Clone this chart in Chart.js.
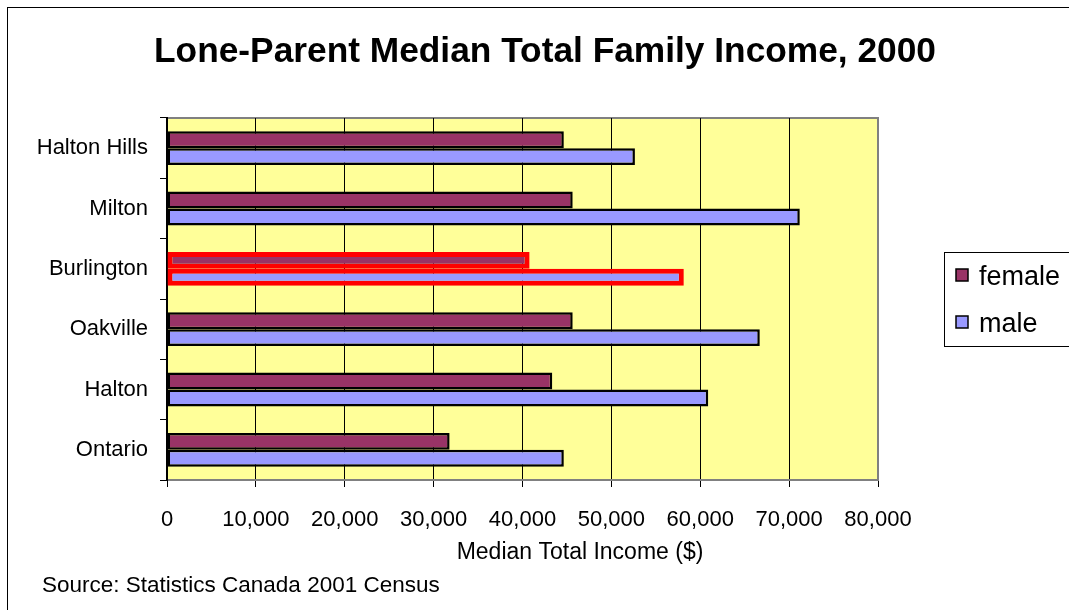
<!DOCTYPE html>
<html lang="en">
<head>
  <meta charset="UTF-8">
  <title>Lone-Parent Median Total Family Income, 2000</title>
  <script src="https://cdn.jsdelivr.net/npm/chart.js"></script>
  <style>
    body { margin: 0; background: #fff; }
    #wrap { width: 1069px; height: 610px; position: relative; }
  </style>
</head>
<body>
  <div id="wrap"><canvas id="incomeChart"></canvas></div>

  <script>
    const places = ['Halton Hills', 'Milton', 'Burlington', 'Oakville', 'Halton', 'Ontario'];
    const female = [44650, 45650, 40800, 45650, 43350, 31800];
    const male = [52650, 71200, 58150, 66700, 60900, 44650];
    const highlighted = 'Burlington';

    const font = '"Liberation Sans", Arial, sans-serif';

    // border colour / width per bar: the highlighted place gets a red outline
    const edgeColor = places.map(p => p === highlighted ? '#ff0000' : '#000000');
    const edgeWidth = places.map(p => p === highlighted ? 5 : 2.5);

    // plot background, title, axis title, legend box, source note and outer frame
    const decorations = {
      id: 'decorations',
      beforeDraw(chart) {
        const { ctx, chartArea: a } = chart;
        ctx.save();
        ctx.fillStyle = '#ffff99';
        ctx.fillRect(a.left, a.top, a.right - a.left, a.bottom - a.top);
        ctx.strokeStyle = '#808080';
        ctx.lineWidth = 2;
        ctx.strokeRect(a.left, a.top, a.right - a.left, a.bottom - a.top);
        ctx.restore();
      },
      afterDraw(chart) {
        const ctx = chart.ctx;
        ctx.save();
        ctx.strokeStyle = '#000';
        ctx.lineWidth = 1;
        ctx.strokeRect(7.5, 7.5, 1100, 700);

        ctx.fillStyle = '#000';
        ctx.font = 'bold 35.3px ' + font;
        ctx.textAlign = 'center';
        ctx.textBaseline = 'middle';
        ctx.fillText('Lone-Parent Median Total Family Income, 2000', 545, 52);

        ctx.font = '23px ' + font;
        ctx.fillText('Median Total Income ($)', 580, 553);

        ctx.font = '22.5px ' + font;
        ctx.textAlign = 'left';
        ctx.fillText('Source: Statistics Canada 2001 Census', 42, 586);

        // legend
        ctx.strokeRect(944.5, 252.5, 200, 94);
        ctx.font = '27px ' + font;
        ctx.textBaseline = 'alphabetic';
        const rows = [285, 332];
        chart.data.datasets.forEach((ds, i) => {
          const y = rows[i];
          ctx.fillStyle = ds.backgroundColor;
          ctx.fillRect(956, y - 16, 12, 12);
          ctx.lineWidth = 1.5;
          ctx.strokeRect(956, y - 16, 12, 12);
          ctx.fillStyle = '#000';
          ctx.fillText(ds.label, 979, y);
        });
        ctx.restore();
      }
    };

    const ctx = document.getElementById('incomeChart').getContext('2d');

    const incomeChart = new Chart(ctx, {
      type: 'bar',
      data: {
        labels: places,
        datasets: [
          {
            label: 'female',
            data: female,
            backgroundColor: '#993366',
            borderColor: edgeColor,
            borderWidth: edgeWidth,
            borderSkipped: false
          },
          {
            label: 'male',
            data: male,
            backgroundColor: '#9999ff',
            borderColor: edgeColor,
            borderWidth: edgeWidth,
            borderSkipped: false
          }
        ]
      },
      options: {
        indexAxis: 'y',
        responsive: true,
        maintainAspectRatio: false,
        animation: false,
        categoryPercentage: 0.56,
        barPercentage: 1,
        layout: { padding: { top: 118, right: 191, bottom: 40, left: 0 } },
        plugins: {
          legend: { display: false },
          title: { display: false },
          tooltip: { enabled: false }
        },
        scales: {
          x: {
            min: 0,
            max: 80000,
            afterFit(scale) { scale.height = 90; },
            ticks: {
              stepSize: 10000,
              color: '#000',
              padding: 20,
              maxRotation: 0,
              font: { family: font, size: 22 },
              callback: v => v.toLocaleString('en-US')
            },
            grid: {
              color: ctx => ctx.tick && ctx.tick.value === 80000 ? '#808080' : '#000',
              tickColor: '#000',
              tickLength: 7,
              lineWidth: 1
            },
            border: { color: '#808080', width: 2 }
          },
          y: {
            afterFit(scale) { scale.width = 167; },
            ticks: {
              color: '#000',
              padding: 12,
              font: { family: font, size: 22 }
            },
            grid: {
              offset: true,
              drawOnChartArea: false,
              color: '#000',
              tickLength: 7
            },
            border: { color: '#000', width: 2 }
          }
        }
      },
      plugins: [decorations]
    });
  </script>
</body>
</html>
